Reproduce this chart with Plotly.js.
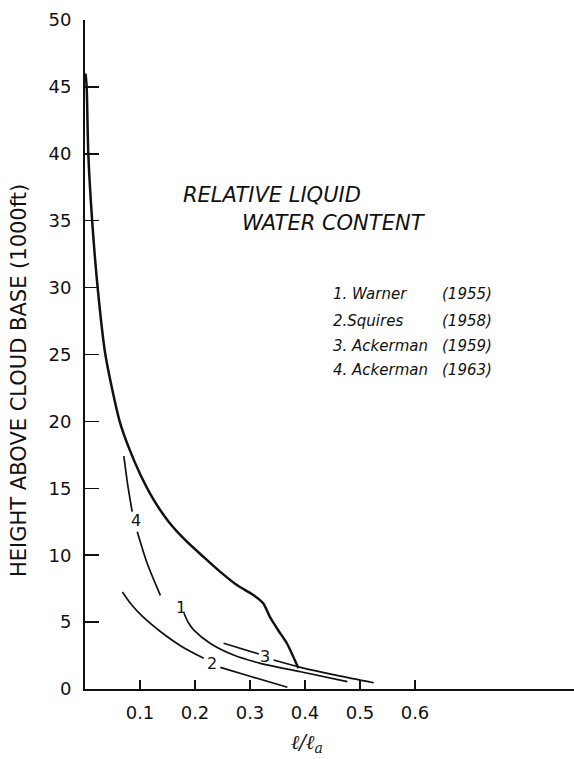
<!DOCTYPE html>
<html>
<head>
<meta charset="utf-8">
<script src="https://cdn.plot.ly/plotly-3.0.1.min.js"></script>
<style>html,body{margin:0;padding:0;background:#fff;}#chart{width:574px;height:759px;}</style>
</head>
<body>
<div id="chart"></div>
<script>
// Envelope curve (thick)
const envX = [0.001, 0.003, 0.006, 0.013, 0.023, 0.037, 0.063, 0.080, 0.101, 0.1255, 0.151, 0.182, 0.215, 0.2455, 0.276, 0.306, 0.324, 0.336, 0.351, 0.367, 0.388];
const envY = [46.0, 45.0, 40.0, 35.0, 30.0, 25.0, 20.0, 18.0, 16.0, 14.1, 12.56, 11.14, 9.89, 8.77, 7.77, 7.03, 6.41, 5.4, 4.41, 3.42, 1.55];
// 1. Warner (1955)
const c1X = [0.180, 0.188, 0.198, 0.228, 0.270, 0.319, 0.392, 0.477];
const c1Y = [5.66, 4.95, 4.4, 3.4, 2.54, 1.92, 1.29, 0.55];
// 2. Squires (1958)  (two pieces around the label)
const c2aX = [0.068, 0.0836, 0.1036, 0.137, 0.175, 0.216];
const c2aY = [7.25, 6.35, 5.46, 4.3, 3.2, 2.29];
const c2bX = [0.246, 0.300, 0.368];
const c2bY = [1.62, 0.95, 0.13];
// 3. Ackerman (1959)
const c3aX = [0.252, 0.316];
const c3aY = [3.42, 2.62];
const c3bX = [0.343, 0.392, 0.460, 0.525];
const c3bY = [2.17, 1.62, 1.0, 0.47];
// 4. Ackerman (1963)
const c4aX = [0.0706, 0.0775, 0.0858];
const c4aY = [17.4, 15.3, 13.25];
const c4bX = [0.095, 0.113, 0.137];
const c4bY = [11.76, 9.4, 7.0];

const curveLabels = ['1', '2', '3', '4'];
const labelX = [0.174, 0.231, 0.328, 0.092];
const labelY = [6.1, 1.92, 2.41, 12.6];

const legendNames = ['1. Warner', '2.Squires', '3. Ackerman', '4. Ackerman'];
const legendYears = ['(1955)', '(1958)', '(1959)', '(1963)'];

const yTicks = [0, 5, 10, 15, 20, 25, 30, 35, 40, 45, 50];
const xTicks = [0.1, 0.2, 0.3, 0.4, 0.5, 0.6];
const xTickText = ['0.1', '0.2', '0.3', '0.4', '0.5', '0.6'];

function line(x, y, w) {
  return {x: x, y: y, type: 'scatter', mode: 'lines', line: {color: '#111', width: w, shape: 'spline', smoothing: 0.7}, hoverinfo: 'skip', showlegend: false};
}
const data = [
  line(envX, envY, 2.5),
  line(c1X, c1Y, 1.7),
  line(c2aX, c2aY, 1.7), line(c2bX, c2bY, 1.7),
  line(c3aX, c3aY, 1.7), line(c3bX, c3bY, 1.7),
  line(c4aX, c4aY, 1.7), line(c4bX, c4bY, 1.7)
];

const W = 574, H = 759, L = 85, R = 0, T = 20, B = 70;
const pw = W - L - R, ph = H - T - B;
function px(x) { return (x - L) / pw; }
function py(y) { return (H - B - y) / ph; }

const font = 'DejaVu Sans, sans-serif';
const ann = [];
for (let i = 0; i < curveLabels.length; i++) {
  ann.push({x: labelX[i], y: labelY[i], xref: 'x', yref: 'y', text: curveLabels[i], showarrow: false,
    font: {family: font, size: 16, color: '#111'}});
}
const legRows = [294, 321, 346, 370];
for (let i = 0; i < legendNames.length; i++) {
  ann.push({x: px(331), y: py(legRows[i]), xref: 'paper', yref: 'paper', xanchor: 'left', yanchor: 'middle',
    text: '<i>' + legendNames[i] + '</i>', showarrow: false, font: {family: font, size: 15, color: '#111'}});
  ann.push({x: px(494), y: py(legRows[i]), xref: 'paper', yref: 'paper', xanchor: 'right', yanchor: 'middle',
    text: '<i>' + legendYears[i] + '</i>', showarrow: false, font: {family: font, size: 15, color: '#111'}});
}
ann.push({x: px(181), y: py(195), xref: 'paper', yref: 'paper', xanchor: 'left', yanchor: 'middle',
  text: '<i>RELATIVE LIQUID</i>', showarrow: false, font: {family: font, size: 21, color: '#111'}});
ann.push({x: px(240), y: py(223), xref: 'paper', yref: 'paper', xanchor: 'left', yanchor: 'middle',
  text: '<i>WATER CONTENT</i>', showarrow: false, font: {family: font, size: 21, color: '#111'}});
ann.push({x: px(19), y: py(381), xref: 'paper', yref: 'paper', xanchor: 'center', yanchor: 'middle', textangle: -90,
  text: 'HEIGHT ABOVE CLOUD BASE (1000ft)', showarrow: false, font: {family: font, size: 21, color: '#111'}});
ann.push({x: px(307), y: py(743), xref: 'paper', yref: 'paper', xanchor: 'center', yanchor: 'middle',
  text: '<i>ℓ/ℓ<sub>a</sub></i>', showarrow: false, font: {family: 'DejaVu Serif, serif', size: 20, color: '#111'}});

const layout = {
  width: W, height: H,
  margin: {l: L, r: R, t: T, b: B, pad: 0},
  paper_bgcolor: '#fff', plot_bgcolor: '#fff',
  showlegend: false,
  font: {family: font, color: '#111'},
  xaxis: {range: [0, pw / 550], showgrid: false, zeroline: false, showline: true, linecolor: '#111', linewidth: 2,
    ticks: 'inside', ticklen: 9, tickwidth: 1.5, tickcolor: '#111', tickvals: xTicks, ticktext: xTickText,
    tickfont: {family: font, size: 18, color: '#111'}, ticklabelstandoff: 6, fixedrange: true},
  yaxis: {range: [0, 50], showgrid: false, zeroline: false, showline: true, linecolor: '#111', linewidth: 2,
    ticks: 'inside', ticklen: 14, tickwidth: 1.5, tickcolor: '#111', tickvals: yTicks,
    tickfont: {family: font, size: 18, color: '#111'}, ticklabelstandoff: 8, fixedrange: true},
  annotations: ann
};
Plotly.newPlot('chart', data, layout, {staticPlot: true, displayModeBar: false});
</script>
</body>
</html>
